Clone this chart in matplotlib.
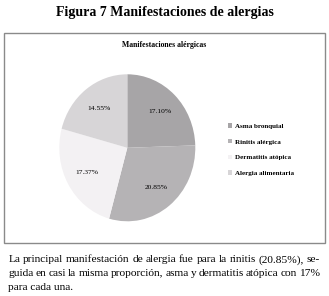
import matplotlib
matplotlib.use('Agg')
import matplotlib.pyplot as plt
from matplotlib.patches import Rectangle

categorias = ['Asma bronquial', 'Rinitis alérgica', 'Dermatitis atópica', 'Alergia alimentaria']
valores = [17.10, 20.85, 17.37, 14.55]
colores = ['#a7a5a7', '#b5b3b5', '#f3f1f3', '#d7d5d7']

titulo = 'Figura 7 Manifestaciones de alergias'
titulo_grafico = 'Manifestaciones alérgicas'
parrafo = ['La principal manifestación de alergia fue para la rinitis (20.85%), se-',
           'guida en casi la misma proporción, asma y dermatitis atópica con 17%',
           'para cada una.']

W, H = 329, 296
plt.rcParams['font.family'] = ['Liberation Serif', 'DejaVu Serif']
fig = plt.figure(figsize=(W / 100, H / 100), dpi=100)

def fx(x):
    return x / W

def fy(y):
    return 1 - y / H

# marco del grafico
fig.patches.append(Rectangle((fx(3.5), fy(243)), fx(321.5), 210 / H, transform=fig.transFigure,
                             fill=False, edgecolor='#8a8a8a', linewidth=1))

fig.text(fx(165), fy(12.5), titulo, ha='center', va='center', fontsize=10, fontweight='bold')
fig.text(fx(164), fy(45), titulo_grafico, ha='center', va='center', fontsize=5.6, fontweight='bold')

ax = fig.add_axes([fx(59.3), fy(221.3), 136 / W, 147 / H])
total = sum(valores)
wedges, textos, pcts = ax.pie(valores, colors=colores, startangle=90, counterclock=False,
                              autopct=lambda p: f'{p * total / 100:.2f}%', pctdistance=0.68,
                              textprops={'fontsize': 5.4})
ax.set_xlim(-1, 1)
ax.set_ylim(-1, 1)
ax.set_aspect('auto')
ax.axis('off')

fig.legend(wedges, categorias, loc='upper left', bbox_to_anchor=(fx(222), fy(117)),
           frameon=False, handlelength=0.6, handleheight=0.6, handletextpad=0.4,
           labelspacing=1.45, prop={'weight': 'bold', 'size': 5})

# parrafo justificado
fig.canvas.draw()
r = fig.canvas.get_renderer()
x0, x1 = 8.3, 320
ys = [260, 273.5, 287]
for i, linea in enumerate(parrafo):
    palabras = linea.split(' ')
    if i == len(parrafo) - 1:
        fig.text(fx(x0), fy(ys[i]), linea, ha='left', va='center', fontsize=8.2)
        continue
    objs = [fig.text(0, fy(ys[i]), p, ha='left', va='center', fontsize=8.2) for p in palabras]
    anchos = [o.get_window_extent(r).width for o in objs]
    hueco = (x1 - x0 - sum(anchos)) / (len(palabras) - 1)
    x = x0
    for o, a in zip(objs, anchos):
        o.set_x(fx(x))
        x += a + hueco

fig.savefig('out.png', dpi=100)
